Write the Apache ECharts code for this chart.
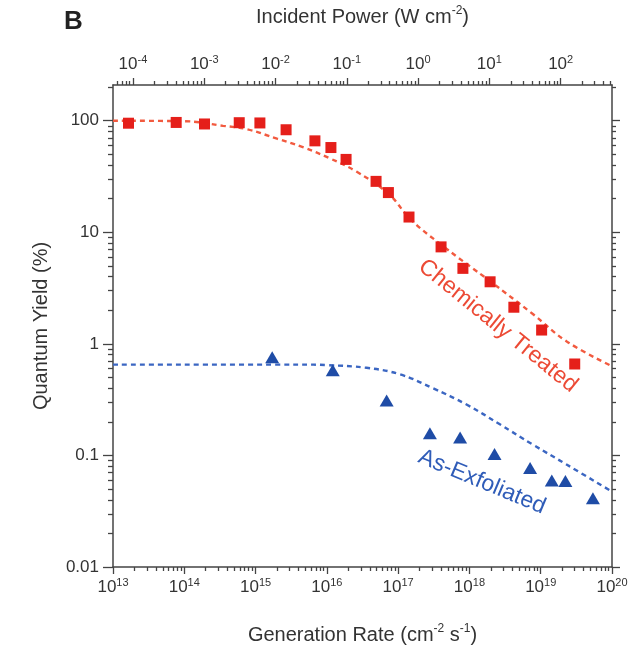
<!DOCTYPE html>
<html>
<head>
<meta charset="utf-8">
<script src="https://cdn.jsdelivr.net/npm/echarts@6/dist/echarts.min.js"></script>
<style>
  html, body { margin: 0; background: #fff; }
  #chart { width: 643px; height: 650px; }
</style>
</head>
<body>
<div id="chart"></div>
<script>
// Chemically treated (squares)
const treatedRate = [1.65e13, 7.7e13, 1.92e14, 5.9e14, 1.15e15, 2.68e15, 6.8e15, 1.14e16, 1.86e16,
    4.9e16, 7.3e16, 1.42e17, 4.0e17, 8.1e17, 1.95e18, 4.2e18, 1.03e19, 3.0e19];
const treatedQY = [95, 96.5, 93.5, 96, 95.5, 83, 66, 57.5, 45, 28.6, 22.7, 13.7, 7.4, 4.75, 3.6, 2.13, 1.33, 0.66];

// As-exfoliated (triangles)
const exfoRate = [1.71e15, 1.21e16, 6.9e16, 2.79e17, 7.4e17, 2.25e18, 7.1e18, 1.43e19, 2.22e19, 5.4e19];
const exfoQY = [0.76, 0.58, 0.31, 0.158, 0.145, 0.103, 0.077, 0.0595, 0.059, 0.0413];

// dashed model curves
const treatedFitRate = [1e13, 1e14, 3.5e14, 7.5e14, 2.0e15, 4.6e15, 1.1e16, 2.6e16, 7.4e16, 1.47e17, 3.9e17, 1.94e18, 7.75e18, 2.32e19, 1e20];
const treatedFitQY = [100, 99, 90, 84, 69, 58, 46, 35, 22, 13.2, 7.85, 3.65, 1.85, 1.05, 0.63];
const exfoFitRate = [1e13, 4.2e15, 1e16, 3.6e16, 1.06e17, 3.08e17, 9.1e17, 2.67e18, 7.75e18, 2.3e19, 1e20];
const exfoFitQY = [0.652, 0.652, 0.645, 0.61, 0.533, 0.4, 0.286, 0.19, 0.125, 0.083, 0.0474];

// axis ticks
const rateMajor = [1e13, 1e14, 1e15, 1e16, 1e17, 1e18, 1e19, 1e20];
const powerMajor = [1e-4, 1e-3, 1e-2, 1e-1, 1, 10, 100];
const qyMajor = [0.01, 0.1, 1, 10, 100];
const rateRange = [1e13, 1e20];
const powerRange = [5.25e-5, 525];
const qyRange = [0.01, 209];

function minorsOf(lo, hi) {
    const out = [];
    for (let e = Math.floor(Math.log10(lo)); e <= Math.ceil(Math.log10(hi)); e++) {
        for (let k = 2; k <= 9; k++) {
            const v = k * Math.pow(10, e);
            if (v > lo && v < hi) out.push(v);
        }
    }
    return out;
}

const AX = '#444';
const TXT = '#333';
const supRich = {
    b: { fontSize: 17, color: TXT, fontFamily: 'Liberation Sans' },
    s: { fontSize: 11, color: TXT, fontFamily: 'Liberation Sans', padding: [0, 0, 10, 0] }
};
const nameRich = {
    t: { fontSize: 20, color: TXT, fontFamily: 'Liberation Sans' },
    s: { fontSize: 12, color: TXT, fontFamily: 'Liberation Sans', padding: [0, 0, 12, 0] }
};
function powLabel(v) {
    return '{b|10}{s|' + Math.round(Math.log10(v)) + '}';
}

function logAxis(pos, range, ticks, len, extra) {
    return Object.assign({
        type: 'log', logBase: 10, position: pos,
        min: range[0], max: range[1],
        splitLine: { show: false },
        axisLine: { show: true, onZero: false, lineStyle: { color: AX, width: 1.5 } },
        axisTick: { show: true, inside: false, length: len, customValues: ticks, lineStyle: { color: AX, width: 1.3 } },
        axisLabel: { show: false }
    }, extra || {});
}

const chart = echarts.init(document.getElementById('chart'));

chart.setOption({
    animation: false,
    backgroundColor: '#fff',
    grid: { left: 113, right: 31, top: 84, bottom: 83, containLabel: false },
    xAxis: [
        logAxis('bottom', rateRange, rateMajor, 7, {
            name: '{t|Generation Rate (cm}{s|-2}{t| s}{s|-1}{t|)}',
            nameLocation: 'middle', nameGap: 56,
            nameTextStyle: { rich: nameRich },
            axisLabel: { show: true, margin: 10, customValues: rateMajor, formatter: powLabel, rich: supRich }
        }),
        logAxis('bottom', rateRange, minorsOf(rateRange[0], rateRange[1]), 4, { axisLine: { show: false } }),
        logAxis('top', powerRange, powerMajor, 7, {
            name: '{t|Incident Power (W cm}{s|-2}{t|)}',
            nameLocation: 'middle', nameGap: 56,
            nameTextStyle: { rich: nameRich },
            axisLabel: { show: true, margin: 10, customValues: powerMajor, formatter: powLabel, rich: supRich }
        }),
        logAxis('top', powerRange, minorsOf(powerRange[0], powerRange[1]), 4, { axisLine: { show: false } })
    ],
    yAxis: [
        logAxis('left', qyRange, qyMajor, 10, {
            name: 'Quantum Yield (%)',
            nameLocation: 'middle', nameGap: 62,
            nameTextStyle: { fontSize: 20, color: TXT, fontFamily: 'Liberation Sans' },
            axisLabel: { show: true, margin: 14, customValues: qyMajor, color: TXT, fontSize: 17, fontFamily: 'Liberation Sans',
                formatter: v => String(v) }
        }),
        logAxis('right', qyRange, qyMajor, 8),
        logAxis('left', qyRange, minorsOf(qyRange[0], qyRange[1]), 5, { axisLine: { show: false } }),
        logAxis('right', qyRange, minorsOf(qyRange[0], qyRange[1]), 4, { axisLine: { show: false } })
    ],
    series: [
        {
            name: 'treated fit', type: 'line', xAxisIndex: 0, yAxisIndex: 0,
            data: treatedFitRate.map((x, i) => [x, treatedFitQY[i]]),
            showSymbol: false, smooth: 0.4,
            lineStyle: { color: '#f25a3f', width: 2.4, type: [5, 4] }, z: 2
        },
        {
            name: 'exfoliated fit', type: 'line', xAxisIndex: 0, yAxisIndex: 0,
            data: exfoFitRate.map((x, i) => [x, exfoFitQY[i]]),
            showSymbol: false, smooth: 0.4,
            lineStyle: { color: '#3b66c2', width: 2.4, type: [5, 4] }, z: 2
        },
        {
            name: 'Chemically Treated', type: 'scatter', xAxisIndex: 0, yAxisIndex: 0,
            data: treatedRate.map((x, i) => [x, treatedQY[i]]),
            symbol: 'rect', symbolSize: 11,
            itemStyle: { color: '#e51f1a', opacity: 1 }, z: 3
        },
        {
            name: 'As-Exfoliated', type: 'scatter', xAxisIndex: 0, yAxisIndex: 0,
            data: exfoRate.map((x, i) => [x, exfoQY[i]]),
            symbol: 'triangle', symbolSize: [14, 12],
            itemStyle: { color: '#1f4ca6', opacity: 1 }, z: 3
        }
    ],
    graphic: [
        { type: 'text', left: 64, top: 9, style: { text: 'B', fontSize: 26, fontWeight: 'bold', fill: '#222', fontFamily: 'Liberation Sans' } },
        { type: 'text', x: 498, y: 326, rotation: -39 * Math.PI / 180,
          style: { text: 'Chemically Treated', fontSize: 23, fill: '#ec4a35', fontFamily: 'Liberation Sans', align: 'center', verticalAlign: 'middle' } },
        { type: 'text', x: 482, y: 482, rotation: -22.6 * Math.PI / 180,
          style: { text: 'As-Exfoliated', fontSize: 23, fill: '#2f5cb8', fontFamily: 'Liberation Sans', align: 'center', verticalAlign: 'middle' } }
    ]
});
</script>
</body>
</html>
